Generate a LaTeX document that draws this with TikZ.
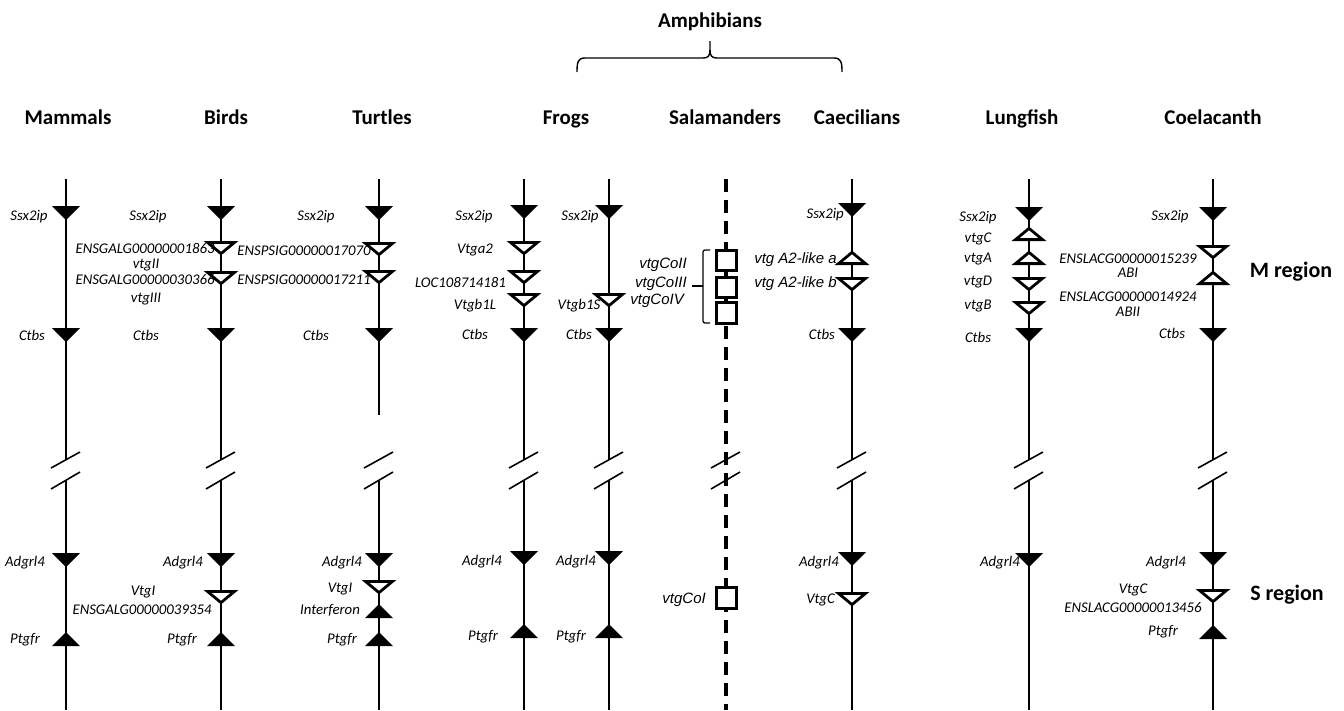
\documentclass[tikz,border=0pt]{standalone}
\usepackage{fontspec}
\newfontfamily\carlito{Carlito}
\newfontfamily\helv{Liberation Sans}
\begin{document}
\begin{tikzpicture}[x=1pt,y=-1pt,
  chrom/.style={line width=1.8pt},
  brk/.style={line width=1.6pt},
  lab/.style={inner sep=0pt, font=\fontsize{14.8}{16}\selectfont\carlito\itshape},
  hlab/.style={inner sep=0pt, font=\fontsize{15}{17}\selectfont\helv\itshape},
  head/.style={inner sep=0pt, anchor=base, font=\fontsize{21}{24}\selectfont\carlito\bfseries},
  region/.style={inner sep=0pt, font=\fontsize{22}{25}\selectfont\carlito\bfseries},
  gbox/.style={line width=3.4pt, fill=white},
  fdown/.pic={\fill (-14,0) -- (14,0) -- (0,14) -- cycle;},
  fup/.pic={\fill (-14,0) -- (14,0) -- (0,-14) -- cycle;},
  odown/.pic={\draw[line width=2.8pt, fill=white] (-13.5,1.4) -- (13.5,1.4) -- (0,12.6) -- cycle;},
  oup/.pic={\draw[line width=2.8pt, fill=white] (-13.5,-1.4) -- (13.5,-1.4) -- (0,-12.6) -- cycle;},
  slashes/.pic={\draw[brk] (-15,16) -- (14,0); \draw[brk] (-15,37) -- (14,20);}
]
\useasboundingbox (0,0) rectangle (1344,710);

% group headings
\node[head] (amph) at (710,27) {Amphibians};
\node[head] (hmam) at (68,124) {Mammals};
\node[head] (hbird) at (226,124) {Birds};
\node[head] (htur) at (382,124) {Turtles};
\node[head] (hfrog) at (566,124) {Frogs};
\node[head] (hsal) at (725,124) {Salamanders};
\node[head] (hcae) at (857,124) {Caecilians};
\node[head] (hlung) at (1022,124) {Lungfish};
\node[head] (hcoel) at (1213,124) {Coelacanth};

% brace over the amphibians
\coordinate (bl) at (577,72);
\coordinate (br) at (842,72);
\coordinate (bt) at (710,41);
\draw[line width=1.4pt]
  (bl) .. controls (577,62) and (578,58) .. (585,58) -- (703,58)
  .. controls (708,58) and (710,56) .. (710,50) -- (bt);
\draw[line width=1.4pt]
  (br) .. controls (842,62) and (841,58) .. (834,58) -- (717,58)
  .. controls (712,58) and (710,56) .. (710,50);

% chromosome lines with breaks
\foreach \x in {66,221,524,609,852,1029,1213}{
  \draw[chrom] (\x,179) -- (\x,460);
  \draw[chrom] (\x,481) -- (\x,710);
  \pic at (\x,452) {slashes};
}
% turtles: upper part ends earlier
\draw[chrom] (379,179) -- (379,415);
\draw[chrom] (379,481) -- (379,710);
\pic at (379,452) {slashes};
% salamanders: dashed scaffold
\draw[line width=3.5pt, dash pattern=on 13pt off 8pt] (726,179) -- (726,710);
\draw[line width=3.5pt] (726,250) -- (726,323);
\pic at (726,452) {slashes};

% ---------- Mammals ----------
\pic at (66,206) {fdown};
\pic at (66,328) {fdown};
\pic at (66,553) {fdown};
\pic at (66,646) {fup};
\node[lab] (m1) at (29,217) {Ssx2ip};
\node[lab] (m2) at (32,335) {Ctbs};
\node[lab] (m3) at (25,563) {Adgrl4};
\node[lab] (m4) at (25,640) {Ptgfr};

% ---------- Birds ----------
\pic at (221,206) {fdown};
\pic at (221,241) {odown};
\pic at (221,271) {odown};
\pic at (221,328) {fdown};
\pic at (221,553) {fdown};
\pic at (221,590) {odown};
\pic at (221,646) {fup};
\node[lab] (b1) at (148,217) {Ssx2ip};
\node[lab] (b2) at (145,248) {ENSGALG00000001863};
\node[lab] (b3) at (146,265) {vtgII};
\node[lab] (b4) at (145,280) {ENSGALG00000030366};
\node[lab] (b5) at (146,299) {vtgIII};
\node[lab] (b6) at (146,335) {Ctbs};
\node[lab] (b7) at (183,563) {Adgrl4};
\node[lab] (b8) at (143,592) {VtgI};
\node[lab] (b9) at (142,610) {ENSGALG00000039354};
\node[lab] (b10) at (182,640) {Ptgfr};

% ---------- Turtles ----------
\pic at (379,206) {fdown};
\pic at (379,242) {odown};
\pic at (379,270) {odown};
\pic at (379,328) {fdown};
\pic at (379,553) {fdown};
\pic at (379,580) {odown};
\pic at (379,618) {fup};
\pic at (379,646) {fup};
\node[lab] (t1) at (316,217) {Ssx2ip};
\node[lab] (t2) at (304,251) {ENSPSIG00000017070};
\node[lab] (t3) at (304,280) {ENSPSIG00000017211};
\node[lab] (t4) at (316,335) {Ctbs};
\node[lab] (t5) at (342,563) {Adgrl4};
\node[lab] (t6) at (340,589) {VtgI};
\node[lab] (t7) at (330,610) {Interferon};
\node[lab] (t8) at (342,640) {Ptgfr};

% ---------- Frogs (first species) ----------
\pic at (524,205) {fdown};
\pic at (524,241) {odown};
\pic at (524,270) {odown};
\pic at (524,293) {odown};
\pic at (524,328) {fdown};
\pic at (524,551) {fdown};
\pic at (524,638) {fup};
\node[lab] (f1) at (474,217) {Ssx2ip};
\node[lab] (f2) at (475,250) {Vtga2};
\node[lab, anchor=east] (f3) at (506,282) {LOC108714181};
\node[lab] (f4) at (475,306) {Vtgb1L};
\node[lab] (f5) at (475,334) {Ctbs};
\node[lab] (f6) at (482,562) {Adgrl4};
\node[lab] (f7) at (483,637) {Ptgfr};

% ---------- Frogs (second species) ----------
\pic at (609,205) {fdown};
\pic at (609,293) {odown};
\pic at (609,328) {fdown};
\pic at (609,551) {fdown};
\pic at (609,638) {fup};
\node[lab] (g1) at (580,217) {Ssx2ip};
\node[lab] (g2) at (579,306) {Vtgb1S};
\node[lab] (g3) at (579,334) {Ctbs};
\node[lab] (g4) at (576,562) {Adgrl4};
\node[lab] (g5) at (571,637) {Ptgfr};

% ---------- Salamanders ----------
\draw[gbox] (716.7,250.7) rectangle (736.3,270.3);
\draw[gbox] (716.7,277.7) rectangle (736.3,297.3);
\draw[gbox] (716.7,302.7) rectangle (736.3,323.3);
\draw[gbox] (716.7,587.7) rectangle (736.3,608.3);
\coordinate (kt) at (710,250);
\coordinate (kb) at (710,323);
\coordinate (km) at (703,286);
\coordinate (kl) at (692,286);
\draw[line width=1.3pt, rounded corners=2pt] (kt) -- (703,250) -- (703,323) -- (kb);
\draw[line width=1.3pt] (km) -- (kl);
\node[hlab, anchor=east] (s1) at (687,265) {vtgCoII};
\node[hlab, anchor=east] (s2) at (687,284) {vtgCoIII};
\node[hlab, anchor=east] (s3) at (684,301) {vtgCoIV};
\node[hlab, anchor=east] (s4) at (706,600) {vtgCoI};

% ---------- Caecilians ----------
\pic at (852,203) {fdown};
\pic at (852,265) {oup};
\pic at (852,277) {odown};
\pic at (852,328) {fdown};
\pic at (852,552) {fdown};
\pic at (852,592) {odown};
\node[lab, anchor=east] (c1) at (844,215) {Ssx2ip};
\node[hlab, anchor=east] (c2) at (837,260) {vtg A2-like a};
\node[hlab, anchor=east] (c3) at (837,284) {vtg A2-like b};
\node[lab, anchor=east] (c4) at (835,334) {Ctbs};
\node[lab, anchor=east] (c5) at (839,563) {Adgrl4};
\node[lab, anchor=east] (c6) at (835,600) {VtgC};

% ---------- Lungfish ----------
\pic at (1029,207) {fdown};
\pic at (1029,241) {oup};
\pic at (1029,265) {oup};
\pic at (1029,277) {odown};
\pic at (1029,301) {odown};
\pic at (1029,328) {fdown};
\pic at (1029,553) {fdown};
\node[lab] (u1) at (978,218) {Ssx2ip};
\node[lab] (u2) at (978,239) {vtgC};
\node[lab] (u3) at (978,259) {vtgA};
\node[lab] (u4) at (978,282) {vtgD};
\node[lab] (u5) at (978,306) {vtgB};
\node[lab] (u6) at (978,337) {Ctbs};
\node[lab, anchor=east] (u7) at (1020,563) {Adgrl4};

% ---------- Coelacanth ----------
\pic at (1213,207) {fdown};
\pic at (1213,245) {odown};
\pic at (1213,285) {oup};
\pic at (1213,328) {fdown};
\pic at (1213,552) {fdown};
\pic at (1213,589) {odown};
\pic at (1213,639) {fup};
\node[lab] (o1) at (1170,217) {Ssx2ip};
\node[lab] (o2) at (1128,259) {ENSLACG00000015239};
\node[lab] (o3) at (1128,273) {ABI};
\node[lab] (o4) at (1128,297) {ENSLACG00000014924};
\node[lab] (o5) at (1128,312) {ABII};
\node[lab] (o6) at (1172,333) {Ctbs};
\node[lab] (o7) at (1166,563) {Adgrl4};
\node[lab] (o8) at (1133,590) {VtgC};
\node[lab] (o9) at (1133,608) {ENSLACG00000013456};
\node[lab] (o10) at (1163,632) {Ptgfr};

% region names
\node[region] (mreg) at (1291,272) {M region};
\node[region] (sreg) at (1287,595) {S region};
\end{tikzpicture}
\end{document}
